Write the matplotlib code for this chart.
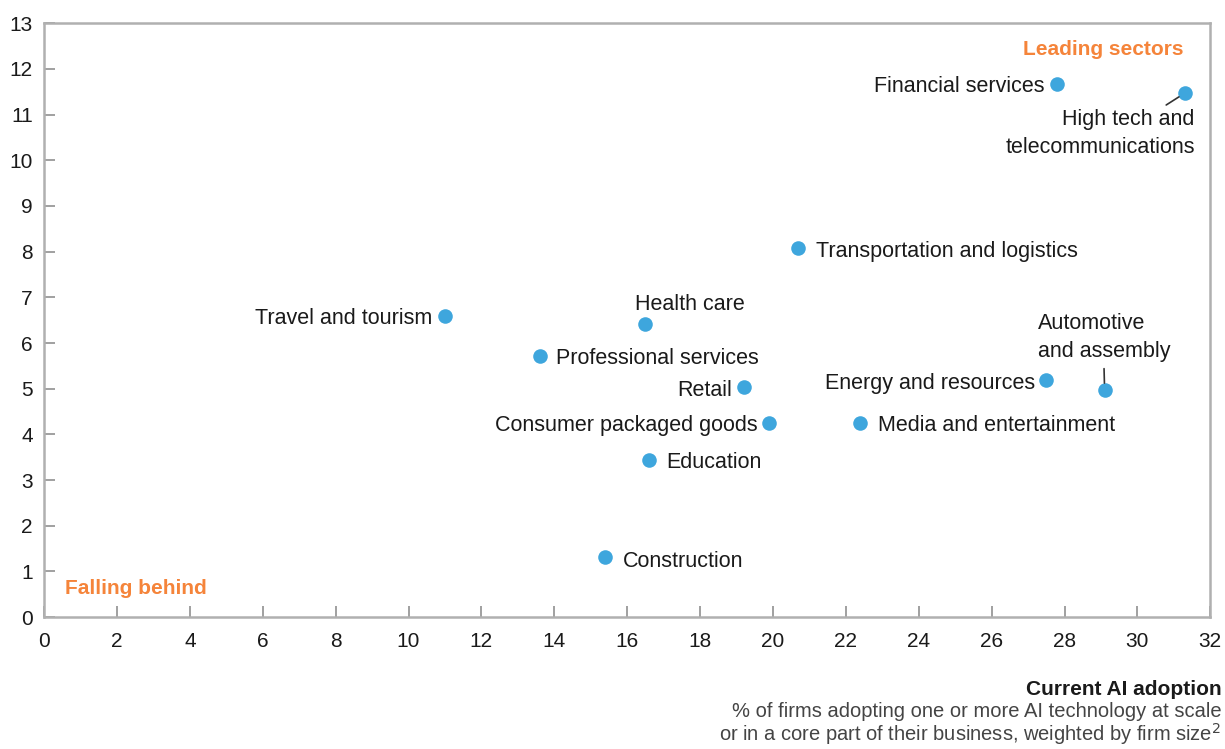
import numpy as np
from matplotlib import pyplot as plt

# sector data
sectors = ['Financial services', 'High tech and\ntelecommunications',
           'Transportation and logistics', 'Travel and tourism',
           'Health care', 'Professional services', 'Retail',
           'Consumer packaged goods', 'Media and entertainment',
           'Education', 'Construction', 'Energy and resources',
           'Automotive\nand assembly']
adoption = [27.8, 31.3, 20.7, 11.0, 16.5, 13.6, 19.2, 19.9, 22.4, 16.6, 15.4, 27.5, 29.1]
growth = [11.66, 11.47, 8.07, 6.6, 6.41, 5.71, 5.03, 4.24, 4.24, 3.44, 1.31, 5.19, 4.97]

x_ticks = list(range(0, 33, 2))
y_ticks = list(range(0, 14))

# label placement (offset in pixels, alignment)
label_pos = [(-13, -2, 'right'), (10, -40, 'right'), (18, -3, 'left'),
             (-13, -3, 'right'), (-10, 20, 'left'), (16, -2, 'left'),
             (-12, -3, 'right'), (-12, -2, 'right'), (18, -2, 'left'),
             (17, -2, 'left'), (18, -4, 'left'), (-11, -3, 'right'),
             (-67, 53, 'left')]

plt.rcParams['font.family'] = ['Liberation Sans', 'DejaVu Sans']
dot_col = '#3ea6dd'
orange = '#f5843a'
txt_col = '#1a1a1a'
spine_col = '#b0b0b0'

fig = plt.figure(figsize=(12.25, 7.49), dpi=100)
ax = fig.add_axes([0.036, 0.176, 0.952, 0.793])

ax.scatter(adoption, growth, s=110, color=dot_col, zorder=3, linewidths=0)

for i, name in enumerate(sectors):
    dx, dy, ha = label_pos[i]
    arrow = None
    if name.startswith('High tech'):
        arrow = dict(arrowstyle='-', color='#333333', lw=1.2,
                     relpos=(0.82, 1.0), shrinkA=1, shrinkB=5)
    elif name.startswith('Automotive'):
        arrow = dict(arrowstyle='-', color='#333333', lw=1.2,
                     relpos=(0.50, 0.0), shrinkA=3, shrinkB=5)
    ax.annotate(name, (adoption[i], growth[i]), xytext=(dx, dy),
                textcoords='offset pixels', ha=ha, va='center',
                multialignment=ha, fontsize=15.5, color=txt_col,
                linespacing=1.45, arrowprops=arrow)

ax.text(0.977, 0.955, 'Leading sectors', transform=ax.transAxes,
        ha='right', va='center', fontsize=15, fontweight='bold', color=orange)
ax.text(0.018, 0.049, 'Falling behind', transform=ax.transAxes,
        ha='left', va='center', fontsize=15, fontweight='bold', color=orange)

ax.set_xlim(0, 32)
ax.set_ylim(0, 13)
ax.set_xticks(x_ticks)
ax.set_yticks(y_ticks)
ax.tick_params(direction='in', length=8, width=1.2, color='#909090',
               labelsize=15, labelcolor=txt_col)
ax.tick_params(axis='x', pad=11)
ax.tick_params(axis='y', pad=8)
for sp in ax.spines.values():
    sp.set_color(spine_col)
    sp.set_linewidth(1.8)

fig.text(0.997, 0.079, 'Current AI adoption', ha='right', va='center',
         fontsize=15, fontweight='bold', color=txt_col)
fig.text(0.997, 0.033, '% of firms adopting one or more AI technology at scale\n'
         'or in a core part of their business, weighted by firm size$^2$',
         ha='right', va='center', fontsize=14.5, color='#444444', linespacing=0.98)

fig.savefig('out.png', dpi=100)
